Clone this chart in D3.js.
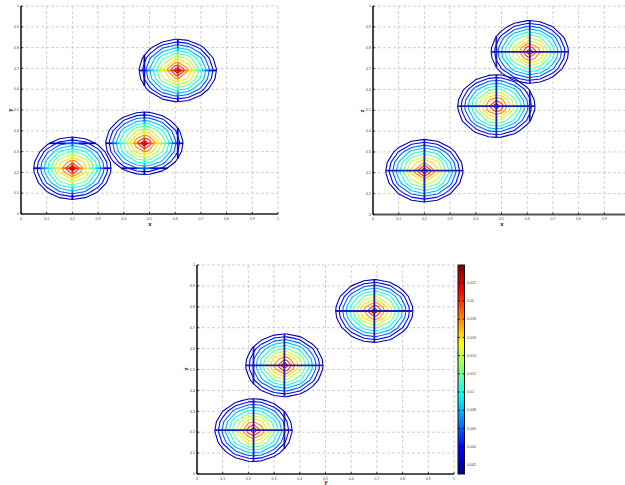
<!DOCTYPE html>
<html><head><meta charset="utf-8">
<script src="https://cdn.jsdelivr.net/npm/d3@7"></script>
<style>body{margin:0;background:#fff;} svg{display:block;}</style>
</head><body><svg id="c" width="625" height="485"></svg>
<script>
// ---- data ----
const pointX = [0.20, 0.48, 0.61];
const pointY = [0.22, 0.34, 0.69];
const pointZ = [0.21, 0.52, 0.78];
const blobPeak = [0.0229, 0.0229, 0.0229];
const blobRadius = [0.157, 0.157, 0.157];
const background = 0.001;
const contourLevels = [0.002, 0.004, 0.006, 0.008, 0.010, 0.012, 0.014, 0.016, 0.018, 0.020, 0.022];
const axisTicks = [0, 0.1, 0.2, 0.3, 0.4, 0.5, 0.6, 0.7, 0.8, 0.9, 1];
const axisTickLabels = ["0", "0.1", "0.2", "0.3", "0.4", "0.5", "0.6", "0.7", "0.8", "0.9", "1"];
const colorbarTicks = [0.002, 0.004, 0.006, 0.008, 0.010, 0.012, 0.014, 0.016, 0.018, 0.020, 0.022];
const colorbarTickLabels = ["0.002", "0.004", "0.006", "0.008", "0.01", "0.012", "0.014", "0.016", "0.018", "0.02", "0.022"];
const colorRange = [0.00101, 0.02394];
const gridStep = 0.05;

// ---- layout ----
const W = 625;
const svg = d3.select("#c");
const panels = [
  {u: pointX, v: pointY, xl: "x", yl: "y", left: 21, right: 278, top: 6, bottom: 214, coloredCross: true,
   xlPos: [150, 226], ylPos: [10, 110]},
  {u: pointX, v: pointZ, xl: "x", yl: "z", left: 373, right: 630, top: 6, bottom: 214.5, coloredCross: false,
   xlPos: [502, 226], ylPos: [362, 111]},
  {u: pointY, v: pointZ, xl: "y", yl: "z", left: 197, right: 454, top: 265, bottom: 474, coloredCross: false,
   xlPos: [326, 484], ylPos: [186, 369]}
];
const FONT = "Liberation Sans, Arial, sans-serif";

const jetInterp = d3.scaleLinear()
  .domain([0, 0.125, 0.375, 0.625, 0.875, 1])
  .range(["#00008f", "#0000ff", "#00ffff", "#ffff00", "#ff0000", "#800000"])
  .clamp(true);
const cnorm = d3.scaleLinear().domain(colorRange).range([0, 1]).clamp(true);
const jet = v => jetInterp(cnorm(v));

function levelColor(f) {
  let lv = null;
  for (const l of contourLevels) if (f >= l) lv = l;
  return lv === null ? null : jet(lv);
}
function makeGrid(extra) {
  const base = d3.range(0, 1 + 1e-9, gridStep).map(d => +d.toFixed(6));
  const all = base.concat(extra).sort((a, b) => a - b);
  const out = [];
  for (const a of all) if (!out.length || Math.abs(a - out[out.length - 1]) > 1e-9) out.push(a);
  return out;
}
function idxToVal(arr, f) {
  const n = arr.length;
  let i = Math.floor(f);
  if (i < 0) i = 0;
  if (i > n - 2) i = n - 2;
  const t = f - i;
  return arr[i] + t * (arr[i + 1] - arr[i]);
}

panels.forEach(p => {
  const sx = d3.scaleLinear().domain([0, 1]).range([p.left, p.right]);
  const sy = d3.scaleLinear().domain([0, 1]).range([p.bottom, p.top]);
  const g = svg.append("g");
  const blobField = k => (a, b) => {
    const du = a - p.u[k], dv = b - p.v[k];
    const r = Math.sqrt(du * du + dv * dv);
    return background + blobPeak[k] * (1 - r / blobRadius[k]);
  };

  // grid lines
  g.append("g").selectAll("line").data(axisTicks).join("line")
    .attr("x1", d => sx(d)).attr("x2", d => sx(d)).attr("y1", p.top).attr("y2", p.bottom)
    .attr("stroke", "#c4c4c4").attr("stroke-width", 0.8).attr("stroke-dasharray", "3,2");
  g.append("g").selectAll("line").data(axisTicks).join("line")
    .attr("y1", d => sy(d)).attr("y2", d => sy(d)).attr("x1", p.left).attr("x2", p.right)
    .attr("stroke", "#c4c4c4").attr("stroke-width", 0.8).attr("stroke-dasharray", "3,2");

  const xs = makeGrid(p.u), ys = makeGrid(p.v);
  const nx = xs.length, ny = ys.length;
  const proj = d3.geoTransform({
    point: function (x, y) { this.stream.point(sx(idxToVal(xs, x - 0.5)), sy(idxToVal(ys, y - 0.5))); }
  });
  const path = d3.geoPath(proj);
  const contourG = g.append("g");
  const cross = g.append("g");

  p.u.forEach((_, k) => {
    const field = blobField(k);
    const values = new Array(nx * ny);
    for (let j = 0; j < ny; j++) for (let i = 0; i < nx; i++) values[j * nx + i] = field(xs[i], ys[j]);
    const contours = d3.contours().size([nx, ny]).thresholds(contourLevels)(values);
    contourG.append("g").selectAll("path").data(contours).join("path")
      .attr("d", path).attr("fill", "none")
      .attr("stroke", d => jet(d.value)).attr("stroke-width", 1.1).attr("stroke-linejoin", "round");

    // chords along the grid lines through every point coordinate
    const step = 0.002;
    function drawChord(fixed, vertical) {
      const segs = [];
      let run = null;
      const flush = () => { if (run) { segs.push(run); run = null; } };
      for (let t = 0; t <= 1 + 1e-9; t += step) {
        const f = vertical ? field(fixed, t) : field(t, fixed);
        const col = p.coloredCross ? levelColor(f) : (f >= contourLevels[0] ? "#1c1cb8" : null);
        if (col === null) { flush(); continue; }
        if (run && run.col === col) run.t1 = t;
        else { const start = run ? run.t1 : t; flush(); run = {col, t0: start, t1: t}; }
      }
      flush();
      segs.forEach(s => {
        cross.append("line")
          .attr("x1", vertical ? sx(fixed) : sx(s.t0)).attr("x2", vertical ? sx(fixed) : sx(s.t1))
          .attr("y1", vertical ? sy(s.t0) : sy(fixed)).attr("y2", vertical ? sy(s.t1) : sy(fixed))
          .attr("stroke", s.col).attr("stroke-width", 1.8);
      });
    }
    p.u.forEach(c => drawChord(c, true));
    p.v.forEach(c => drawChord(c, false));
  });

  // axes
  g.append("line").attr("x1", p.left).attr("x2", p.right).attr("y1", p.bottom).attr("y2", p.bottom)
    .attr("stroke", "#555").attr("stroke-width", 1.8);
  g.append("line").attr("x1", p.left).attr("x2", p.left).attr("y1", p.top).attr("y2", p.bottom)
    .attr("stroke", "#111").attr("stroke-width", 1.5);
  g.append("g").selectAll("line").data(axisTicks).join("line")
    .attr("x1", d => sx(d)).attr("x2", d => sx(d)).attr("y1", p.bottom).attr("y2", p.bottom - 2)
    .attr("stroke", "#111").attr("stroke-width", 0.8);
  g.append("g").selectAll("line").data(axisTicks).join("line")
    .attr("y1", d => sy(d)).attr("y2", d => sy(d)).attr("x1", p.left).attr("x2", p.left + 2)
    .attr("stroke", "#111").attr("stroke-width", 0.8);
  const xt = axisTicks.map((d, i) => ({d, s: axisTickLabels[i]})).filter(o => sx(o.d) + 3 < W);
  g.append("g").selectAll("text").data(xt).join("text")
    .attr("x", o => sx(o.d)).attr("y", p.bottom + 5.5).attr("text-anchor", "middle")
    .attr("font-family", FONT).attr("font-size", 3.6).attr("fill", "#444")
    .text(o => o.s);
  g.append("g").selectAll("text").data(axisTicks).join("text")
    .attr("x", p.left - 2).attr("y", d => sy(d) + 1.2).attr("text-anchor", "end")
    .attr("font-family", FONT).attr("font-size", 3.6).attr("fill", "#444")
    .text((d, i) => axisTickLabels[i]);
  g.append("text").attr("x", p.xlPos[0]).attr("y", p.xlPos[1]).attr("text-anchor", "middle")
    .attr("font-family", FONT).attr("font-size", 6).attr("font-weight", "bold")
    .attr("fill", "#222").text(p.xl);
  g.append("text").attr("transform", `translate(${p.ylPos[0]},${p.ylPos[1]}) rotate(-90)`)
    .attr("text-anchor", "middle").attr("dy", "0.35em")
    .attr("font-family", FONT).attr("font-size", 6).attr("font-weight", "bold")
    .attr("fill", "#222").text(p.yl);
});

// colorbar
const cb = {left: 458, right: 464.5, top: 265, bottom: 474};
const defs = svg.append("defs");
const grad = defs.append("linearGradient").attr("id", "jetg").attr("x1", 0).attr("y1", 1).attr("x2", 0).attr("y2", 0);
[0, 0.125, 0.375, 0.625, 0.875, 1].forEach(o => grad.append("stop").attr("offset", o).attr("stop-color", jetInterp(o)));
svg.append("rect").attr("x", cb.left).attr("y", cb.top).attr("width", cb.right - cb.left).attr("height", cb.bottom - cb.top)
  .attr("fill", "url(#jetg)").attr("stroke", "#111").attr("stroke-width", 1);
const cbs = d3.scaleLinear().domain(colorRange).range([cb.bottom, cb.top]);
svg.append("g").selectAll("line").data(colorbarTicks).join("line")
  .attr("x1", cb.left).attr("x2", cb.left + 2).attr("y1", d => cbs(d)).attr("y2", d => cbs(d))
  .attr("stroke", "#111").attr("stroke-width", 0.9);
svg.append("g").selectAll("line").data(colorbarTicks).join("line")
  .attr("x1", cb.right - 2).attr("x2", cb.right).attr("y1", d => cbs(d)).attr("y2", d => cbs(d))
  .attr("stroke", "#111").attr("stroke-width", 0.9);
svg.append("g").selectAll("text").data(colorbarTicks).join("text")
  .attr("x", cb.right + 2.5).attr("y", d => cbs(d) + 1.2)
  .attr("font-family", FONT).attr("font-size", 3.6).attr("fill", "#444")
  .text((d, i) => colorbarTickLabels[i]);
</script></body></html>
